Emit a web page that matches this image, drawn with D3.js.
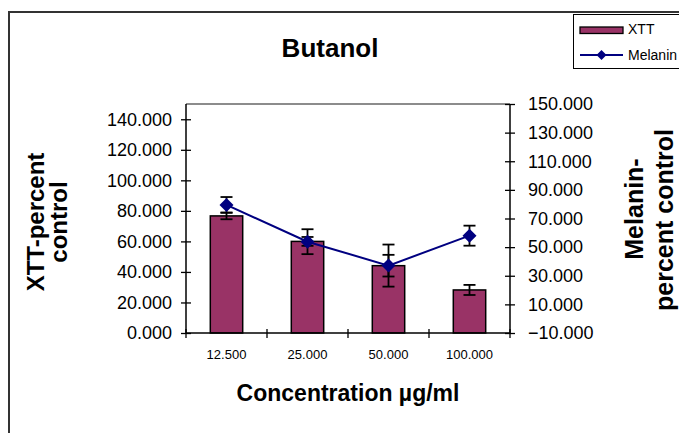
<!DOCTYPE html>
<html><head><meta charset="utf-8">
<script src="https://cdn.jsdelivr.net/npm/d3@7"></script>
<style>
html,body{margin:0;padding:0;background:#fff;}
svg{display:block;font-family:"Liberation Sans",Arial,sans-serif;}
</style></head>
<body>
<svg id="c" width="679" height="433"></svg>
<script>
const categories = ["12.500", "25.000", "50.000", "100.000"];
const xttValues = [76.7, 60.0, 44.1, 28.2];
const xttErrors = [2.2, 2.9, 7.1, 3.3];
const melaninValues = [79.5, 53.8, 37.1, 58.0];
const melaninErrors = [5.5, 8.7, 14.7, 7.0];
const leftTicks = [0, 20, 40, 60, 80, 100, 120, 140];
const rightTicks = [-10, 10, 30, 50, 70, 90, 110, 130, 150];

const svg = d3.select("#c");
const L = 186, R = 510, T = 104, B = 333;

const x = d3.scaleBand().domain(categories).range([L, R]).paddingInner(0).paddingOuter(0);
const yL = d3.scaleLinear().domain([0, 150]).range([B, T]);
const yR = d3.scaleLinear().domain([-10, 150]).range([B, T]);
const fmt = d3.format(".3f");

// outer chart border
svg.append("path").attr("d", `M9,440 L9,12 L690,12`).attr("fill", "none")
  .attr("stroke", "#333").attr("stroke-width", 2);

// plot area top border
svg.append("line").attr("x1", L).attr("x2", R).attr("y1", T).attr("y2", T)
  .attr("stroke", "#666").attr("stroke-width", 1.5);

// title
svg.append("text").attr("x", 330).attr("y", 57).attr("text-anchor", "middle")
  .attr("font-size", 26).attr("font-weight", "bold").text("Butanol");

// bars
const bw = x.bandwidth() * 0.4;
svg.append("g").selectAll("rect").data(categories).join("rect")
  .attr("x", d => x(d) + x.bandwidth() / 2 - bw / 2)
  .attr("y", (d, i) => yL(xttValues[i]))
  .attr("width", bw)
  .attr("height", (d, i) => yL(0) - yL(xttValues[i]))
  .attr("fill", "#993366").attr("stroke", "#000").attr("stroke-width", 1.5);

function errorBars(vals, errs, y) {
  const g = svg.append("g").attr("stroke", "#000").attr("stroke-width", 1.8);
  categories.forEach((c, i) => {
    const cx = x(c) + x.bandwidth() / 2;
    const y1 = y(vals[i] + errs[i]), y2 = y(vals[i] - errs[i]);
    g.append("line").attr("x1", cx).attr("x2", cx).attr("y1", y1).attr("y2", y2);
    g.append("line").attr("x1", cx - 6).attr("x2", cx + 6).attr("y1", y1).attr("y2", y1);
    g.append("line").attr("x1", cx - 6).attr("x2", cx + 6).attr("y1", y2).attr("y2", y2);
  });
}
errorBars(xttValues, xttErrors, yL);

// melanin line
const line = d3.line().x((d, i) => x(categories[i]) + x.bandwidth() / 2).y(d => yR(d));
svg.append("path").datum(melaninValues).attr("d", line).attr("fill", "none")
  .attr("stroke", "#000080").attr("stroke-width", 2);
errorBars(melaninValues, melaninErrors, yR);
const diamond = "M0,-7 L7,0 L0,7 L-7,0 Z";
svg.append("g").selectAll("path").data(melaninValues).join("path")
  .attr("d", diamond)
  .attr("transform", (d, i) => `translate(${x(categories[i]) + x.bandwidth() / 2},${yR(d)})`)
  .attr("fill", "#000080");

// left axis
const gl = svg.append("g").attr("transform", `translate(${L},0)`)
  .call(d3.axisLeft(yL).tickValues(leftTicks).tickFormat(fmt).tickSize(5).tickPadding(9));
gl.selectAll(".tick line").attr("x2", 5).attr("x1", -5).attr("stroke-width", 1.3);
gl.select(".domain").attr("stroke-width", 1.5).attr("d", `M0,${B}V${T}`);
gl.selectAll("text").attr("font-size", 18).attr("font-family", "Liberation Sans, Arial, sans-serif");

// right axis
const gr = svg.append("g").attr("transform", `translate(${R},0)`)
  .call(d3.axisRight(yR).tickValues(rightTicks).tickFormat(fmt).tickSize(5).tickPadding(13));
gr.selectAll(".tick line").attr("x1", -5).attr("x2", 5).attr("stroke-width", 1.3);
gr.select(".domain").attr("stroke-width", 1.5).attr("d", `M0,${B}V${T}`);
gr.selectAll("text").attr("font-size", 18).attr("font-family", "Liberation Sans, Arial, sans-serif");

// bottom axis
svg.append("line").attr("x1", L).attr("x2", R).attr("y1", B).attr("y2", B)
  .attr("stroke", "#000").attr("stroke-width", 1.5);
const bounds = categories.map(c => x(c)).concat([R]);
svg.append("g").selectAll("line").data(bounds).join("line")
  .attr("x1", d => d).attr("x2", d => d).attr("y1", B - 4).attr("y2", B + 5)
  .attr("stroke", "#000").attr("stroke-width", 1.3);
svg.append("g").selectAll("text").data(categories).join("text")
  .attr("x", d => x(d) + x.bandwidth() / 2).attr("y", 359)
  .attr("text-anchor", "middle").attr("font-size", 13).text(d => d);

// axis titles
svg.append("text").attr("x", 348).attr("y", 401).attr("text-anchor", "middle")
  .attr("font-size", 23).attr("font-weight", "bold").text("Concentration µg/ml");

const lt = svg.append("text").attr("transform", "translate(44,222) rotate(-90)")
  .attr("text-anchor", "middle").attr("font-size", 24).attr("font-weight", "bold");
lt.append("tspan").attr("x", 0).attr("y", 0).text("XTT-percent");
lt.append("tspan").attr("x", 0).attr("y", 23).text("control");

const rt = svg.append("text").attr("transform", "translate(643,220) rotate(-90)")
  .attr("text-anchor", "middle").attr("font-size", 25).attr("font-weight", "bold");
rt.append("tspan").attr("x", 11).attr("y", 0).text("Melanin-");
rt.append("tspan").attr("x", 0).attr("y", 30).text("percent control");

// legend
svg.append("rect").attr("x", 573.5).attr("y", 14.5).attr("width", 130).attr("height", 54)
  .attr("fill", "#fff").attr("stroke", "#000").attr("stroke-width", 1);
svg.append("rect").attr("x", 580).attr("y", 27).attr("width", 43).attr("height", 6.5)
  .attr("fill", "#993366").attr("stroke", "#000").attr("stroke-width", 1.3);
svg.append("text").attr("x", 628).attr("y", 34).attr("font-size", 14).text("XTT");
svg.append("line").attr("x1", 580).attr("x2", 623).attr("y1", 55).attr("y2", 55)
  .attr("stroke", "#000080").attr("stroke-width", 1.8);
svg.append("path").attr("d", "M0,-5 L5,0 L0,5 L-5,0 Z").attr("transform", "translate(601.5,55)")
  .attr("fill", "#000080");
svg.append("text").attr("x", 628).attr("y", 60).attr("font-size", 14).text("Melanin");
</script>
</body></html>
